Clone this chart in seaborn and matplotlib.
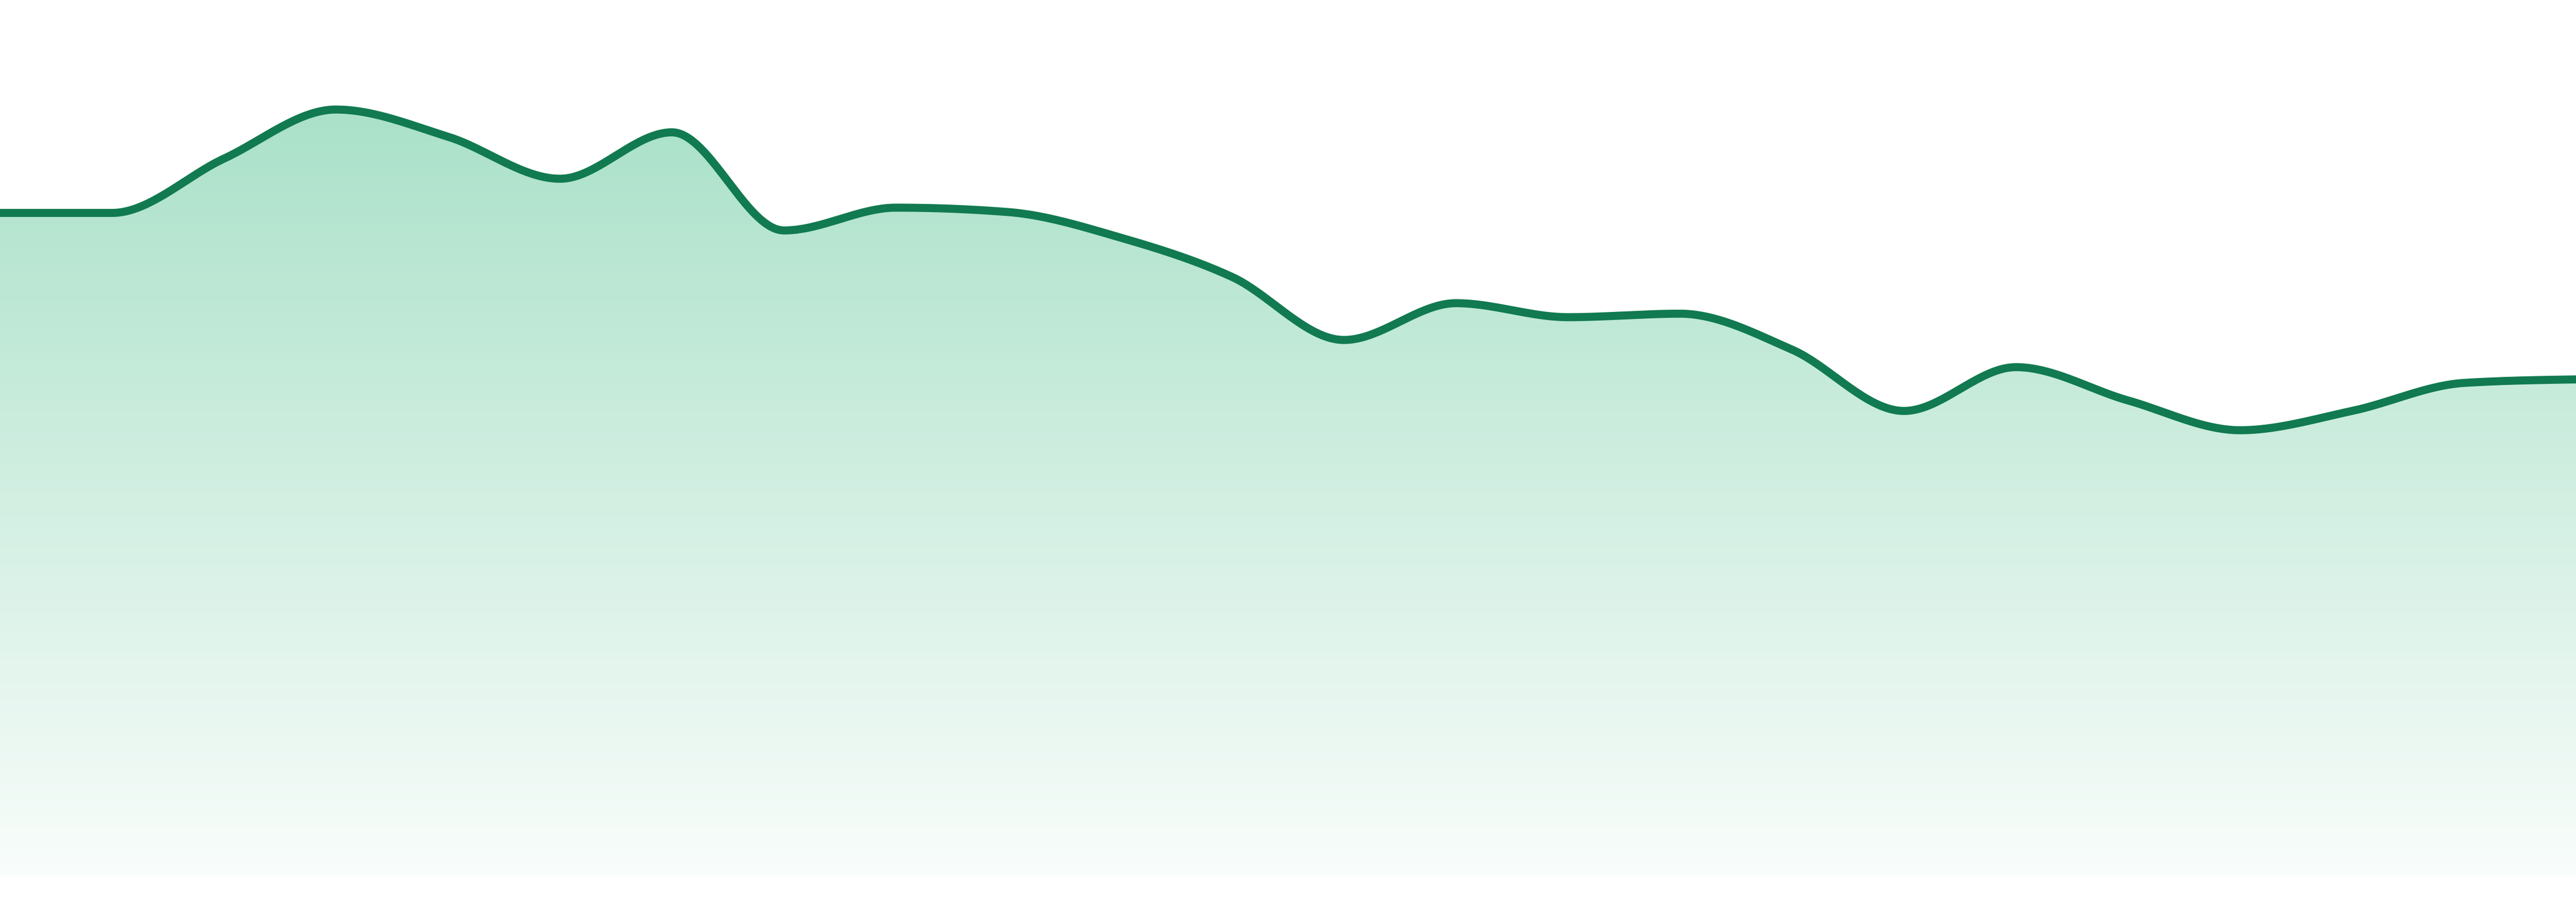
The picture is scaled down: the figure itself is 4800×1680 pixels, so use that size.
import numpy as np
import pandas as pd
import matplotlib
matplotlib.use("Agg")
import matplotlib.pyplot as plt
import seaborn as sns
from matplotlib.colors import LinearSegmentedColormap

sns.set_style("white")

# values, 24 evenly spaced points
steps = list(range(24))
values = [75.7, 75.7, 81.9, 87.5, 84.4, 79.6, 84.9, 73.7, 76.3, 75.8, 72.9, 68.4,
          61.2, 65.4, 63.8, 64.2, 60.1, 53.1, 58.1, 54.3, 50.9, 53.1, 56.3, 56.7]

line_color = "#117a50"
fill_top = "#aae1c9"
fill_bottom = "#f9fdfb"


# monotone cubic curve (same idea as d3 curveMonotoneX)
def monotone_curve(x, y, n=40):
    x = np.asarray(x, float)
    y = np.asarray(y, float)
    h = np.diff(x)
    s = np.diff(y) / h
    t = np.zeros_like(y)
    for i in range(1, len(y) - 1):
        s0, s1 = s[i - 1], s[i]
        p = (s0 * h[i] + s1 * h[i - 1]) / (h[i - 1] + h[i])
        t[i] = (np.sign(s0) + np.sign(s1)) * min(abs(s0), abs(s1), 0.5 * abs(p))
    t[0] = (3 * s[0] - t[1]) / 2
    t[-1] = (3 * s[-1] - t[-2]) / 2
    xs, ys = [], []
    u = np.linspace(0, 1, n, endpoint=False)
    for i in range(len(h)):
        dx = h[i] / 3
        px = [x[i], x[i] + dx, x[i + 1] - dx, x[i + 1]]
        py = [y[i], y[i] + dx * t[i], y[i + 1] - dx * t[i + 1], y[i + 1]]
        b = [(1 - u) ** 3, 3 * u * (1 - u) ** 2, 3 * u ** 2 * (1 - u), u ** 3]
        xs.append(sum(bi * pi for bi, pi in zip(b, px)))
        ys.append(sum(bi * pi for bi, pi in zip(b, py)))
    xs.append([x[-1]])
    ys.append([y[-1]])
    return np.concatenate(xs), np.concatenate(ys)


cx, cy = monotone_curve(steps, values)
curve = pd.DataFrame({"step": cx, "value": cy})

fig = plt.figure(figsize=(16, 5.6), dpi=300)
ax = fig.add_axes([0, 48 / 1680, 1, 1632 / 1680])
ax.set_xlim(steps[0], steps[-1])
ax.set_ylim(0, 100)

# gradient fill under the curve, strongest at the highest value
cmap = LinearSegmentedColormap.from_list("g", [fill_bottom, fill_top])
grad = np.linspace(0, 1, 256).reshape(-1, 1)
img = ax.imshow(grad, extent=[steps[0], steps[-1], 0, max(values)], origin="lower",
                cmap=cmap, aspect="auto", zorder=1)
poly = ax.fill_between(cx, cy, 0, color="none")
clip = poly.get_paths()[0]
img.set_clip_path(clip, transform=ax.transData)
ax.set_ylim(0, 100)

sns.lineplot(data=curve, x="step", y="value", ax=ax, color=line_color,
             linewidth=3.6, zorder=3, estimator=None, sort=False)

ax.set_axis_off()
fig.savefig("out.png", dpi=300, facecolor="white")
